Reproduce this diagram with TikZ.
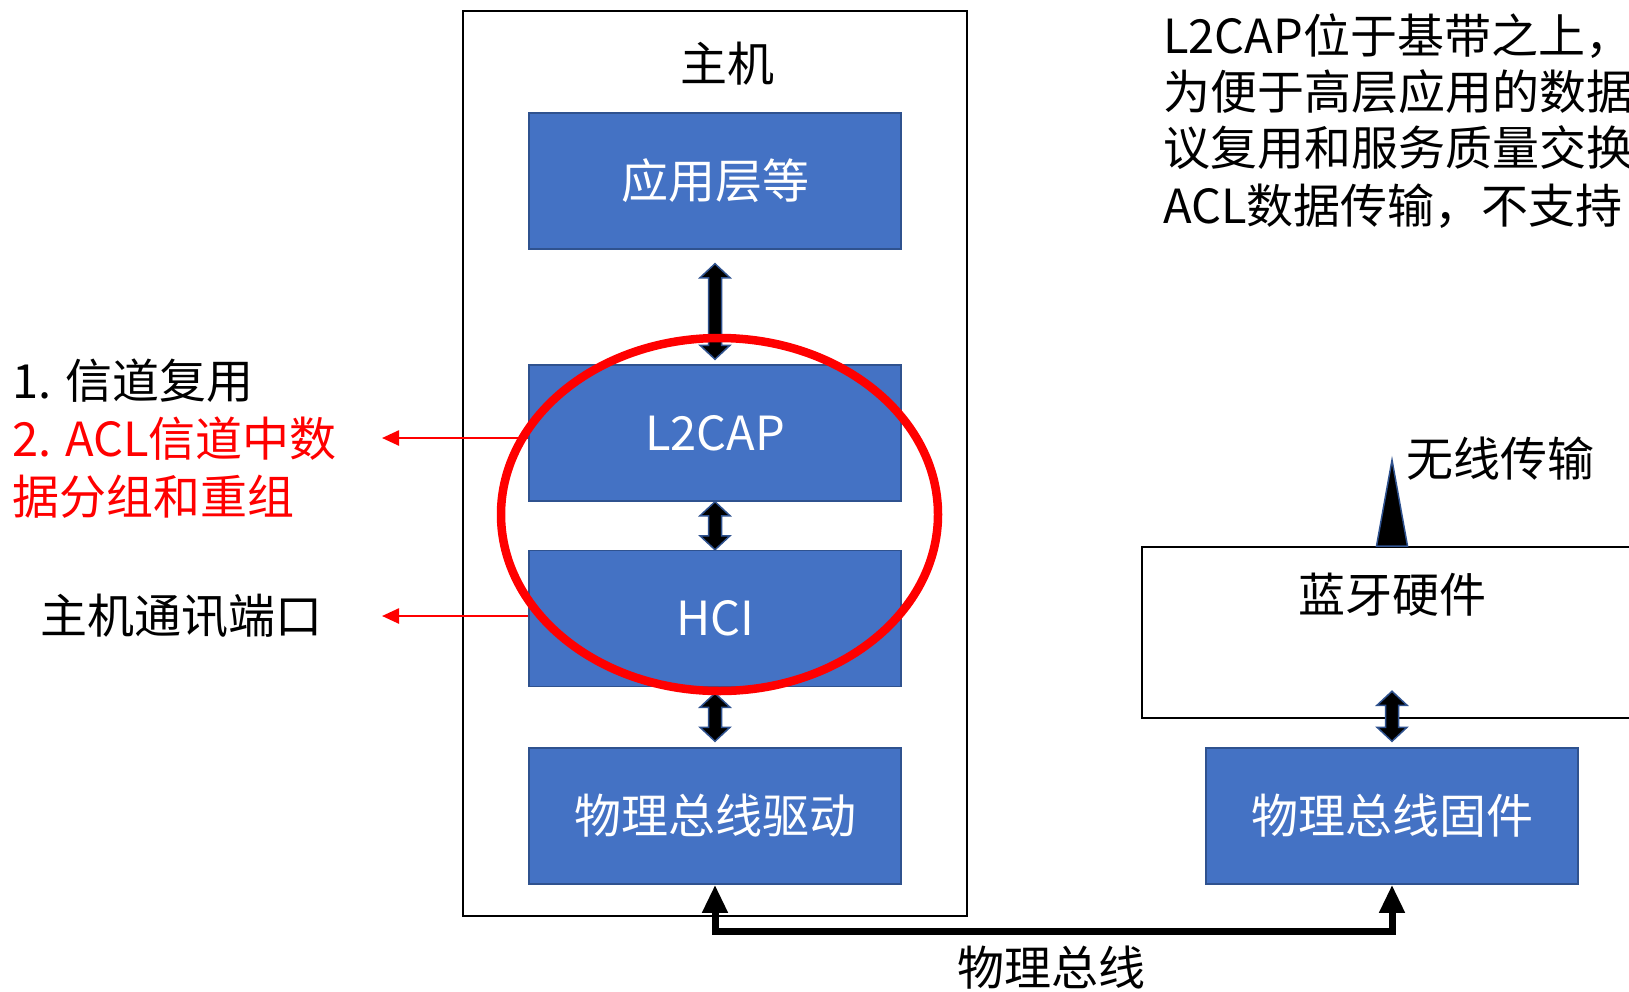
\documentclass[tikz,border=0pt]{standalone}
\usepackage{fontspec}
\newfontfamily\cjk{Noto Sans CJK SC}
\usetikzlibrary{arrows.meta,shapes.geometric,calc}
\definecolor{boxblue}{HTML}{4472C4}
\definecolor{boxedge}{HTML}{2F528F}
\newcommand\dblarrow[2]{%
  \draw[barrow] let \p1=(#1), \p2=(#2) in
   (\x1,\y1) -- (\x1+15pt,\y1-14pt) -- (\x1+6.5pt,\y1-14pt) -- (\x1+6.5pt,\y2+14pt)
   -- (\x1+15pt,\y2+14pt) -- (\x1,\y2) -- (\x1-15pt,\y2+14pt) -- (\x1-6.5pt,\y2+14pt)
   -- (\x1-6.5pt,\y1-14pt) -- (\x1-15pt,\y1-14pt) -- cycle;}
\begin{document}
\begin{tikzpicture}[x=1pt,y=-1pt,
  txt/.style={font=\cjk\fontsize{47}{56}\selectfont, inner sep=0pt},
  blk/.style={txt, draw=boxedge, line width=1.5pt, fill=boxblue, text=white,
    minimum width=372pt, minimum height=136pt},
  frame/.style={draw=black, line width=2pt, inner sep=0pt},
  barrow/.style={fill=black, draw=boxedge, line width=1.5pt, line join=miter},
  redarr/.style={draw=red, line width=2.5pt, -{Triangle[width=15pt,length=17pt]}},
  bus/.style={draw=black, line width=7pt, line join=miter,
    {Triangle[width=24pt,length=28pt]}-{Triangle[width=24pt,length=28pt]}}
]
\useasboundingbox (0,0) rectangle (1629,991);
\clip (0,0) rectangle (1629,991);
\fill[white] (0,0) rectangle (1629,991);

% host frame
\node[frame, minimum width=504pt, minimum height=905pt] (host) at (715,463.5) {};
\node[txt] (hostlbl) at (727,64) {主机};

\node[blk] (app) at (715,181) {应用层等};
\node[blk] (l2cap) at (715,433) {L2CAP};
\node[blk] (hci) at (715,618.5) {HCI};
\node[blk] (drv) at (715,816) {物理总线驱动};

% right side
\node[frame, anchor=north west, minimum width=600pt, minimum height=171pt] (hw) at (1141,546) {};
\node[txt] (hwlbl) at (1392,595) {蓝牙硬件};
\node[blk] (fw) at (1392,816) {物理总线固件};

% block arrows
\dblarrow{[yshift=-14pt]app.south}{[yshift=5pt]l2cap.north}
\dblarrow{l2cap.south}{hci.north}
\dblarrow{[yshift=-6pt]hci.south}{[yshift=6pt]drv.north}
\dblarrow{[yshift=56pt]fw.north}{[yshift=6pt]fw.north}

% wireless
\coordinate (wtip) at (1392,460);
\draw[barrow] (wtip) -- ($(wtip)+(15.5,86)$) -- ($(wtip)+(-15.5,86)$) -- cycle;
\node[txt, anchor=west] (wl) at (1406,459) {无线传输};

% bus
\draw[bus] (drv.south) -- ++(0,47) -| (fw.south);
\node[txt] (buslbl) at (1051,968) {物理总线};

% red ellipse
\node[ellipse, draw=red, line width=8.5pt, minimum width=437pt, minimum height=353pt, inner sep=0pt] (ring) at (719.5,514.5) {};

% left notes
\node[txt, anchor=west] (n1) at (12,381) {1. 信道复用};
\node[txt, anchor=west, text=red] (n2) at (12,439) {2. ACL信道中数};
\node[txt, anchor=west, text=red] (n3) at (12,497) {据分组和重组};
\node[txt, anchor=west] (n4) at (40,616) {主机通讯端口};
\coordinate (t1) at (382,438);
\coordinate (t2) at (382,616);
\draw[redarr] (l2cap.west |- t1) -- (t1);
\draw[redarr] (hci.west |- t2) -- (t2);

% top-right text (cut off at the right edge, as in the reference)
\node[txt, anchor=west] (d1) at (1163,36) {L2CAP位于基带之上，};
\node[txt, anchor=west] (d2) at (1163,92) {为便于高层应用的数据};
\node[txt, anchor=west] (d3) at (1163,148) {议复用和服务质量交换};
\node[txt, anchor=west] (d4) at (1163,206) {ACL数据传输，不支持};
\end{tikzpicture}
\end{document}
